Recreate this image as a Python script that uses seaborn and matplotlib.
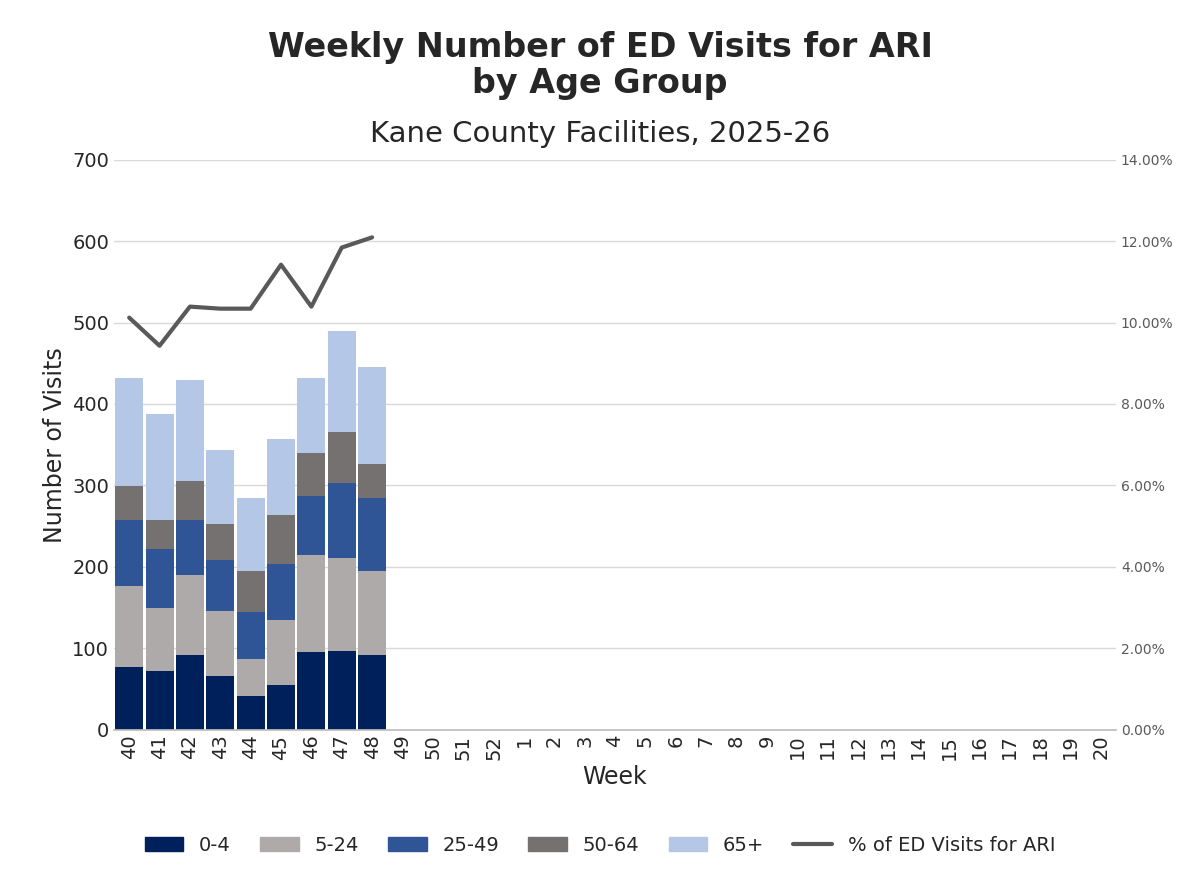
import numpy as np
import pandas as pd
import matplotlib
matplotlib.use("Agg")
import matplotlib.pyplot as plt
import seaborn as sns
from matplotlib.ticker import FuncFormatter
from matplotlib.lines import Line2D
from matplotlib.patches import Patch

sns.set_theme(style="white")
plt.rcParams['font.family'] = ['DejaVu Sans']

weeks = [str(w) for w in list(range(40, 53)) + list(range(1, 21))]
age_groups = ['0-4', '5-24', '25-49', '50-64', '65+']
colors = ['#00205b', '#aeaaaa', '#2f5597', '#767171', '#b4c7e7']

v_0_4 = [77, 72, 92, 66, 41, 55, 96, 97, 92]
v_5_24 = [99, 78, 98, 80, 46, 80, 119, 114, 103]
v_25_49 = [81, 72, 67, 62, 58, 68, 72, 92, 90]
v_50_64 = [42, 35, 48, 45, 50, 61, 53, 63, 41]
v_65 = [133, 131, 124, 90, 90, 93, 92, 124, 119]
pct_ari = [10.12, 9.43, 10.39, 10.34, 10.34, 11.42, 10.39, 11.84, 12.09]

series = [v_0_4, v_5_24, v_25_49, v_50_64, v_65]
n = len(v_0_4)
cum = np.cumsum(np.array(series), axis=0)

fig, ax = plt.subplots(figsize=(12, 8.72), dpi=100)

# stacked bars: draw cumulative totals from the top layer down
for i in reversed(range(len(age_groups))):
    df = pd.DataFrame({'Week': weeks[:n], 'Visits': cum[i]})
    sns.barplot(data=df, x='Week', y='Visits', order=weeks, color=colors[i],
                width=0.92, saturation=1, ax=ax, linewidth=0)

ax.set_ylim(0, 700)
ax.set_yticks(range(0, 701, 100))
ax.yaxis.grid(True, color='#d9d9d9', linewidth=1)
ax.set_axisbelow(True)
for s in ['top', 'right', 'left']:
    ax.spines[s].set_visible(False)
ax.spines['bottom'].set_color('#bfbfbf')
ax.set_xlim(-0.5, len(weeks) - 0.5)
ax.tick_params(axis='x', rotation=90, labelsize=14, length=0)
ax.tick_params(axis='y', labelsize=14, length=0)
ax.set_xlabel('Week', fontsize=17)
ax.set_ylabel('Number of Visits', fontsize=17)

ax2 = ax.twinx()
ldf = pd.DataFrame({'x': np.arange(n), 'pct': pct_ari})
sns.lineplot(data=ldf, x='x', y='pct', color='#595959', linewidth=3, ax=ax2)
ax2.set_ylim(0, 14)
ax2.set_yticks(range(0, 15, 2))
ax2.yaxis.set_major_formatter(FuncFormatter(lambda v, p: f'{v:.2f}%'))
ax2.tick_params(axis='y', labelsize=10, length=0, colors='#595959')
ax2.set_ylabel('')
for s in ['top', 'right', 'left', 'bottom']:
    ax2.spines[s].set_visible(False)
ax2.set_xlim(-0.5, len(weeks) - 0.5)

fig.text(0.5, 0.965, 'Weekly Number of ED Visits for ARI\nby Age Group', ha='center', va='top',
         fontsize=24, fontweight='bold', linespacing=1.15)
fig.text(0.5, 0.862, 'Kane County Facilities, 2025-26', ha='center', va='top', fontsize=21)

handles = [Patch(color=c, label=l) for c, l in zip(colors, age_groups)]
handles.append(Line2D([0], [0], color='#595959', linewidth=3, label='% of ED Visits for ARI'))
fig.legend(handles=handles, loc='lower center', ncol=6, frameon=False, fontsize=14,
           bbox_to_anchor=(0.5, 0.0), handlelength=2, columnspacing=1.5)

fig.subplots_adjust(left=0.095, right=0.93, top=0.817, bottom=0.163)
fig.savefig('out.png', dpi=100, facecolor='white')
